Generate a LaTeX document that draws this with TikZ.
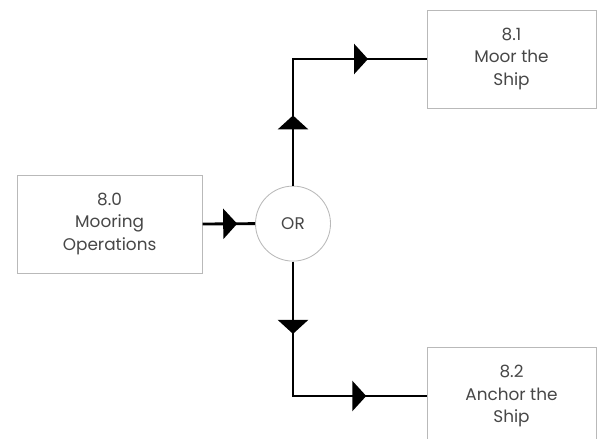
\documentclass[tikz,border=0pt]{standalone}
\usepackage{fontspec}
\setmainfont{Poppins}
\usepackage{tikz}
\usetikzlibrary{arrows.meta, decorations.markings, positioning, calc}

\begin{document}
\begin{tikzpicture}[
        fbox/.style={rectangle, draw=gray!55, line width=0.6pt, fill=white, minimum width=4.625cm, minimum height=2.45cm, align=center, text=black!72, font=\fontsize{12}{16}\selectfont},
        sbox/.style={fbox, minimum width=4.225cm},
        gatenode/.style={circle, draw=gray!55, line width=0.6pt, fill=white, minimum size=1.875cm, inner sep=0pt, text=black!72, font=\fontsize{12}{16}\selectfont},
        flowtip/.tip={Triangle[length=3.5mm, width=7.5mm]},
        link/.style={draw=black, line width=2pt},
        onetip/.style={link, postaction={decorate}, decoration={markings, mark=at position 0.66 with {\arrow{flowtip}}}},
        twotips/.style={link, postaction={decorate}, decoration={markings, mark=at position 0.27 with {\arrow{flowtip}}, mark=at position 0.775 with {\arrow{flowtip}}}}
    ]
        \useasboundingbox (0, 0) rectangle (14.925, -10.975);

        % Funcion principal, compuerta y subfunciones
        \node [fbox] (mooring) at (2.74, -5.6) {8.0\\Mooring\\Operations};
        \node [gatenode] (orgate) at (7.325, -5.59) {OR};
        \node [sbox] (moor) at (12.7875, -1.475) {8.1\\Moor the\\Ship};
        \node [sbox] (anchor) at (12.7875, -9.9) {8.2\\Anchor the\\Ship};

        % Conexiones
        \draw [onetip] (mooring.east) -- (orgate.west);
        \draw [twotips] (orgate.north) |- (moor.west);
        \draw [twotips] (orgate.south) |- (anchor.west);
    \end{tikzpicture}
\end{document}
